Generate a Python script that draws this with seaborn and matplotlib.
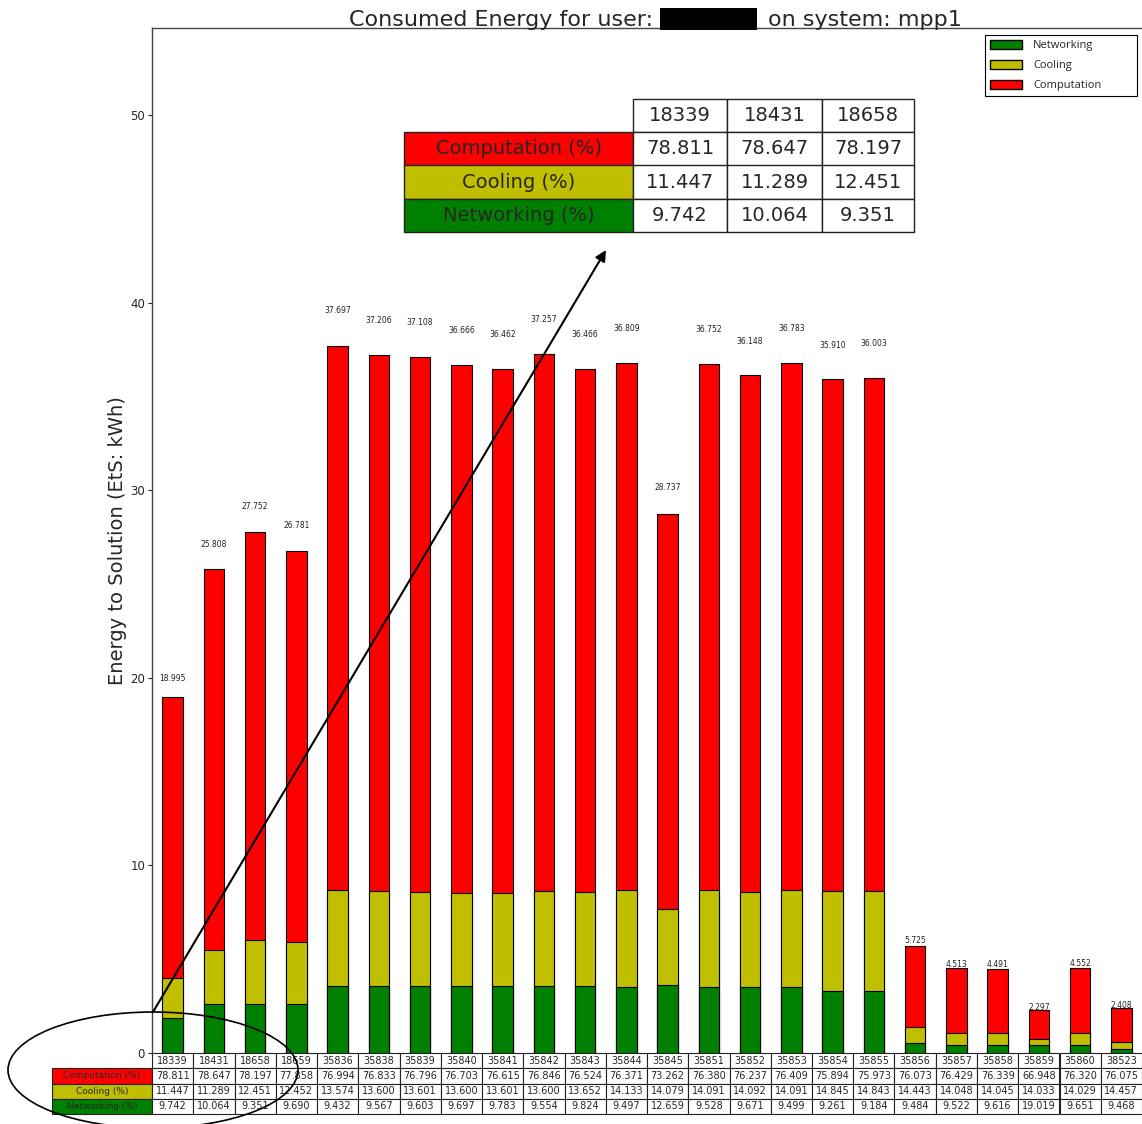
import matplotlib
matplotlib.use("Agg")
import matplotlib.pyplot as plt
from matplotlib.patches import Patch, Rectangle, Ellipse
import numpy as np
import pandas as pd
import seaborn as sns

# Job identifiers and energy-to-solution per job (kWh)
jobs = ['18339', '18431', '18658', '18659', '35836', '35838', '35839', '35840',
        '35841', '35842', '35843', '35844', '35845', '35851', '35852', '35853',
        '35854', '35855', '35856', '35857', '35858', '35859', '35860', '38523']
totals = [18.995, 25.808, 27.752, 26.781, 37.697, 37.206, 37.108, 36.666,
          36.462, 37.257, 36.466, 36.809, 28.737, 36.752, 36.148, 36.783,
          35.910, 36.003, 5.725, 4.513, 4.491, 2.297, 4.552, 2.408]
# Share of each component (%)
comp_pct = [78.811, 78.647, 78.197, 77.858, 76.994, 76.833, 76.796, 76.703,
            76.615, 76.846, 76.524, 76.371, 73.262, 76.380, 76.237, 76.409,
            75.894, 75.973, 76.073, 76.429, 76.339, 66.948, 76.320, 76.075]
cool_pct = [11.447, 11.289, 12.451, 12.452, 13.574, 13.600, 13.601, 13.600,
            13.601, 13.600, 13.652, 14.133, 14.079, 14.091, 14.092, 14.091,
            14.845, 14.843, 14.443, 14.048, 14.045, 14.033, 14.029, 14.457]
net_pct = [9.742, 10.064, 9.351, 9.690, 9.432, 9.567, 9.603, 9.697,
           9.783, 9.554, 9.824, 9.497, 12.659, 9.528, 9.671, 9.499,
           9.261, 9.184, 9.484, 9.522, 9.616, 19.019, 9.651, 9.468]

row_labels = ['Computation (%)', 'Cooling (%)', 'Networking (%)']
C_NET, C_COOL, C_COMP = '#008000', '#bfbf00', '#ff0000'
row_colors = [C_COMP, C_COOL, C_NET]

W, H = 1142, 1124
AX_W, AX_H = 990, 1025
sns.set_theme(style='white')
plt.rcParams['font.family'] = ['DejaVu Sans']

fig = plt.figure(figsize=(W / 100, H / 100), dpi=100)
ax = fig.add_axes([152 / W, 71 / H, AX_W / W, AX_H / H])

tot = np.array(totals)
net_h = tot * np.array(net_pct) / 100
cool_top = tot * (np.array(net_pct) + np.array(cool_pct)) / 100
df = pd.DataFrame({'job': jobs, 'total': tot, 'cool_top': cool_top, 'net': net_h})

# stacked bars: draw cumulative heights from tallest to shortest
for col, colour in [('total', C_COMP), ('cool_top', C_COOL), ('net', C_NET)]:
    sns.barplot(data=df, x='job', y=col, color=colour, saturation=1,
                edgecolor='black', linewidth=0.8, width=0.5, ax=ax)

for i, t in enumerate(totals):
    ax.text(i, t * 1.05, f'{t:.3f}', ha='center', va='center', fontsize=5.5,
            color='#222222')

ax.set_xlim(-0.5, len(jobs) - 0.5)
ax.set_ylim(0, 54.65)
ax.set_xticks([])
ax.set_xlabel('')
ax.set_yticks([0, 10, 20, 30, 40, 50])
ax.tick_params(axis='y', direction='out', length=3, width=0.8, pad=2,
               labelsize=8.5, left=True)
ax.set_ylabel('Energy to Solution (EtS: kWh)', fontsize=14, labelpad=2)
for s in ['right', 'bottom']:
    ax.spines[s].set_visible(False)
for s in ['left', 'top']:
    ax.spines[s].set_color('#444444')
    ax.spines[s].set_linewidth(1.0)


def styled_table(rows, cols, widths_px, label_px, bbox_px, size, label_size, lw):
    """Table whose value columns fill bbox_px (x0, y_top, x1, y_bottom in pixels)."""
    x0, y_top, x1, y_bot = bbox_px
    bbox = [(x0 - 152) / AX_W, (1053 - y_bot) / AX_H,
            (x1 - x0) / AX_W, (y_bot - y_top) / AX_H]
    t = ax.table(cellText=rows, colLabels=cols, cellLoc='center',
                 colWidths=[w / AX_W for w in widths_px], bbox=bbox)
    t.auto_set_font_size(False)
    t.set_fontsize(size)
    hgt = t[(1, 0)].get_height()
    for r, (lab, colour) in enumerate(zip(row_labels, row_colors), start=1):
        cell = t.add_cell(r, -1, width=label_px / AX_W, height=hgt, text=lab,
                          facecolor=colour, loc='center')
        cell.get_text().set_fontsize(label_size)
    for (r, c), cell in t.get_celld().items():
        cell.set_linewidth(lw)
        cell.set_edgecolor('#222222')
    return t


# data table under the bars
cell_rows = [[f'{v:.3f}' for v in comp_pct],
             [f'{v:.3f}' for v in cool_pct],
             [f'{v:.3f}' for v in net_pct]]
styled_table(cell_rows, jobs, [AX_W / len(jobs)] * len(jobs), 100,
             (152, 1053, 1142, 1114), 7, 6.5, 0.8)

# enlarged view of the first three columns
inset_rows = [[f'{v:.3f}' for v in comp_pct[:3]],
              [f'{v:.3f}' for v in cool_pct[:3]],
              [f'{v:.3f}' for v in net_pct[:3]]]
styled_table(inset_rows, jobs[:3], [94, 95, 92], 229,
             (633, 99, 914, 232), 14, 14, 1.0)

# ellipse around the table corner and arrow to the enlarged view
fig.add_artist(Ellipse((153 / W, 1 - 1070 / H), 290 / W, 116 / H,
                       transform=fig.transFigure, fill=False,
                       edgecolor='black', linewidth=1.2))
ax.annotate('', xy=(606 / W, 1 - 250 / H), xycoords='figure fraction',
            xytext=(153 / W, 1 - 1012 / H), textcoords='figure fraction',
            arrowprops=dict(arrowstyle='-|>', color='black', lw=1.5,
                            mutation_scale=16, shrinkA=0, shrinkB=0))

# legend
handles = [Patch(facecolor=C_NET, edgecolor='black', label='Networking'),
           Patch(facecolor=C_COOL, edgecolor='black', label='Cooling'),
           Patch(facecolor=C_COMP, edgecolor='black', label='Computation')]
leg = ax.legend(handles=handles, loc='upper left', mode='expand',
                bbox_to_anchor=(985 / W, 1 - 101 / H, 152 / W, 66 / H),
                bbox_transform=fig.transFigure,
                borderaxespad=0, fancybox=False, framealpha=1, edgecolor='black',
                prop={'family': 'Open Sans', 'size': 8}, handlelength=2.9,
                handleheight=0.9, labelspacing=0.75, handletextpad=1.0,
                borderpad=0.45)
leg.get_frame().set_linewidth(0.8)

# title with the user name blacked out
fig.text(653 / W, 1 - 26 / H, 'Consumed Energy for user:', ha='right',
         va='baseline', fontsize=16)
fig.add_artist(Rectangle((660 / W, 1 - 30 / H), 97 / W, 22 / H,
                         transform=fig.transFigure, facecolor='black',
                         edgecolor='none'))
fig.text(768 / W, 1 - 26 / H, 'on system: mpp1', ha='left',
         va='baseline', fontsize=16)

fig.savefig('out.png', dpi=100)
